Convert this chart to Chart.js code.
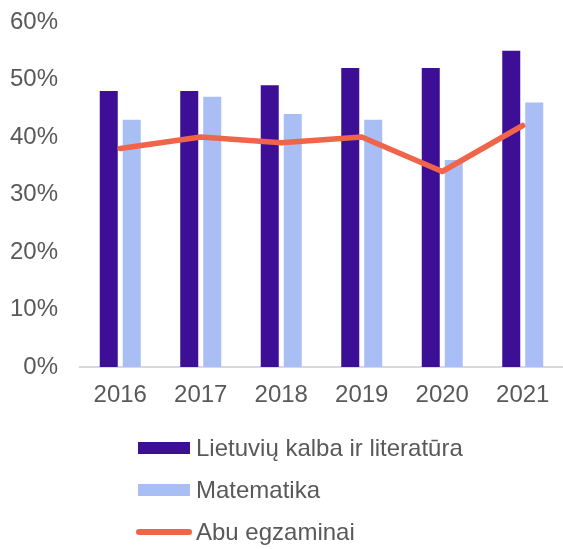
<!DOCTYPE html>
<html>
<head>
<meta charset="utf-8">
<script src="https://cdn.jsdelivr.net/npm/chart.js@4"></script>
<style>
  html, body { margin: 0; padding: 0; background: #fff; }
  #wrap { position: relative; width: 563px; height: 549px; }
  #c { position: absolute; left: 0; top: 0; }
  #legend { position: absolute; left: 136px; top: 426.5px; font-family: "Liberation Sans", Arial, sans-serif; font-size: 24px; color: #595959; }
  .item { display: flex; align-items: center; height: 42px; }
  .sw { width: 52px; height: 12px; margin-left: 2px; margin-right: 6px; }
  .ln { width: 56px; height: 6px; border-radius: 3px; margin-right: 4px; }
</style>
</head>
<body>
<div id="wrap">
  <canvas id="c" width="563" height="430"></canvas>
  <div id="legend"></div>
</div>
<script>
const categories = ["2016", "2017", "2018", "2019", "2020", "2021"];
const lietuviu = [48, 48, 49, 52, 52, 55];
const matematika = [43, 47, 44, 43, 36, 46];
const abu = [38, 40, 39, 40, 34, 42];
const seriesNames = ["Lietuvių kalba ir literatūra", "Matematika", "Abu egzaminai"];
const colors = ["#3D0F96", "#A9BEF5", "#F0654A"];

const FONT = { family: "'Liberation Sans', Arial, sans-serif", size: 24 };
const ctx = document.getElementById('c');
const chart = new Chart(ctx, {
  data: {
    labels: categories,
    datasets: [
      { type: 'line', label: seriesNames[2], data: abu, borderColor: colors[2], backgroundColor: colors[2],
        borderWidth: 5.5, pointRadius: 0, tension: 0, borderCapStyle: 'round', borderJoinStyle: 'round', order: 0 },
      { type: 'bar', label: seriesNames[0], data: lietuviu, backgroundColor: colors[0], order: 1,
        categoryPercentage: 0.5714, barPercentage: 0.783 },
      { type: 'bar', label: seriesNames[1], data: matematika, backgroundColor: colors[1], order: 1,
        categoryPercentage: 0.5714, barPercentage: 0.783 }
    ]
  },
  options: {
    responsive: false,
    animation: false,
    layout: { padding: { left: 0, right: 0, top: 22, bottom: 0 } },
    plugins: { legend: { display: false }, tooltip: { enabled: false } },
    scales: {
      x: {
        grid: { display: false, drawTicks: false },
        border: { display: true, color: '#D9D9D9', width: 2 },
        ticks: { color: '#595959', font: FONT, padding: 14 },
        afterFit: s => { s.height = 63; s.paddingLeft = 0; s.paddingRight = 0; }
      },
      y: {
        min: 0, max: 60,
        grid: { display: false, drawTicks: false },
        border: { display: false },
        ticks: { stepSize: 10, color: '#595959', padding: 22, font: FONT,
          callback: v => v + '%' },
        afterFit: s => { s.width = 80; s.paddingTop = 0; s.paddingBottom = 0; }
      }
    }
  }
});

const legend = document.getElementById('legend');
[0, 1, 2].forEach(i => {
  const d = document.createElement('div');
  d.className = 'item';
  const s = document.createElement('div');
  s.className = i === 2 ? 'ln' : 'sw';
  s.style.background = colors[i];
  const t = document.createElement('span');
  t.textContent = seriesNames[i];
  d.appendChild(s); d.appendChild(t);
  legend.appendChild(d);
});
</script>
</body>
</html>
